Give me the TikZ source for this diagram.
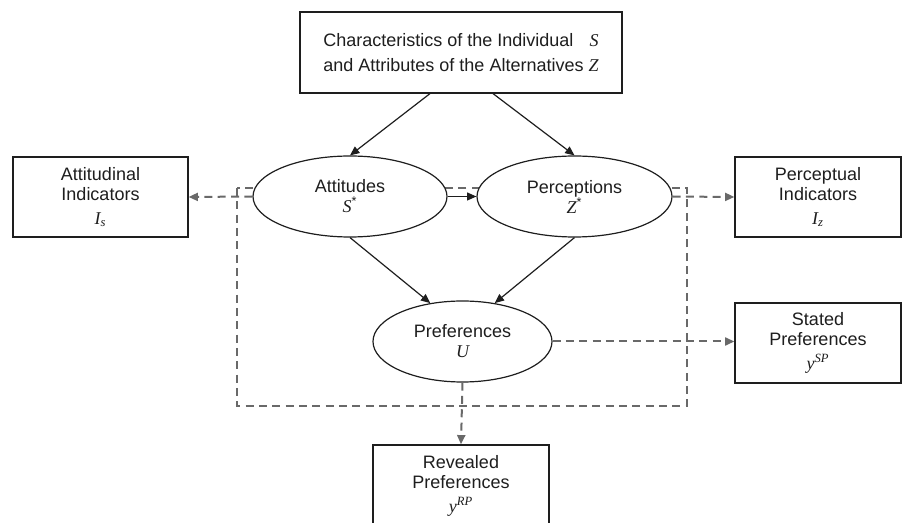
\documentclass[tikz,border=0pt]{standalone}
\usepackage{fontspec}
\setmainfont{Liberation Serif}
\setsansfont{Liberation Sans}
\usepackage{tikz}
\usetikzlibrary{positioning,arrows.meta,shapes.geometric,calc}
\definecolor{inkgrey}{RGB}{30,30,30}
\definecolor{dashgrey}{RGB}{105,105,105}
\newcommand{\mv}[1]{{\rmfamily\itshape #1}}

\begin{document}
\begin{tikzpicture}[x=0.75pt, y=-0.75pt, every node/.style={font=\sffamily\fontsize{13.5}{15}\selectfont, text=inkgrey},
  obsbox/.style={rectangle, draw=inkgrey, fill=white, line width=0.9pt, align=center, inner sep=0pt},
  latent/.style={ellipse, draw=inkgrey, fill=white, line width=0.9pt, align=center, inner sep=0pt, minimum height=60.75pt},
  cause/.style={-{Triangle[length=7pt,width=6pt]}, line width=0.9pt, inkgrey},
  measure/.style={-{Triangle[length=7pt,width=6pt]}, line width=1.5pt, dashgrey, dash pattern=on 6pt off 4pt}]
  \clip (0,0) rectangle (903,523);

  % latent block
  \draw[line width=1.5pt, dashgrey, dash pattern=on 6pt off 4pt] (237,188) rectangle (687,406);

  \node[obsbox, minimum width=241.5pt, minimum height=60.75pt, font=\sffamily\fontsize{13.5}{19}\selectfont] (chars) at (461,52.5)
    {Characteristics of the Individual\hspace{0.9em}\mv{S}\\and Attributes of the Alternatives \mv{Z}};

  \node[latent, minimum width=145.5pt] (att) at (350,196.5) {Attitudes\\\mv{S}\textsuperscript{*}};
  \node[latent, minimum width=146.25pt] (perc) at (574.5,196.5) {Perceptions\\\mv{Z}\textsuperscript{*}};
  \node[latent, minimum width=134.25pt] (pref) at (462.5,341.5) {Preferences\\\mv{U}};

  \node[obsbox, minimum width=131.25pt, minimum height=60pt] (attind) at (100.5,197) {Attitudinal\\Indicators\\[3pt]\mv{I}\textsubscript{\mv{s}}};
  \node[obsbox, minimum width=124.5pt, minimum height=60pt] (percind) at (818,197) {Perceptual\\Indicators\\[3pt]\mv{I}\textsubscript{\mv{z}}};
  \node[obsbox, minimum width=124.5pt, minimum height=60pt] (stated) at (818,343) {Stated\\Preferences\\[3pt]\mv{y}\textsuperscript{\mv{SP}}};
  \node[obsbox, minimum width=132pt, minimum height=61.5pt] (revealed) at (461,486) {Revealed\\Preferences\\[3pt]\mv{y}\textsuperscript{\mv{RP}}};

  \draw[cause] ($(chars.south)+(-31,0)$) -- (att.north);
  \draw[cause] ($(chars.south)+(32,0)$) -- (perc.north);
  \draw[cause] (att.east) -- (perc.west);
  \draw[cause] (att.south) -- (pref.130);
  \draw[cause] (perc.south) -- (pref.50);

  \draw[measure] (att.west) -- (attind.east);
  \draw[measure] (perc.east) -- (percind.west);
  \draw[measure] (pref.east) -- (pref.east -| stated.west);
  \draw[measure] (pref.south) -- (revealed.north);
\end{tikzpicture}
\end{document}
